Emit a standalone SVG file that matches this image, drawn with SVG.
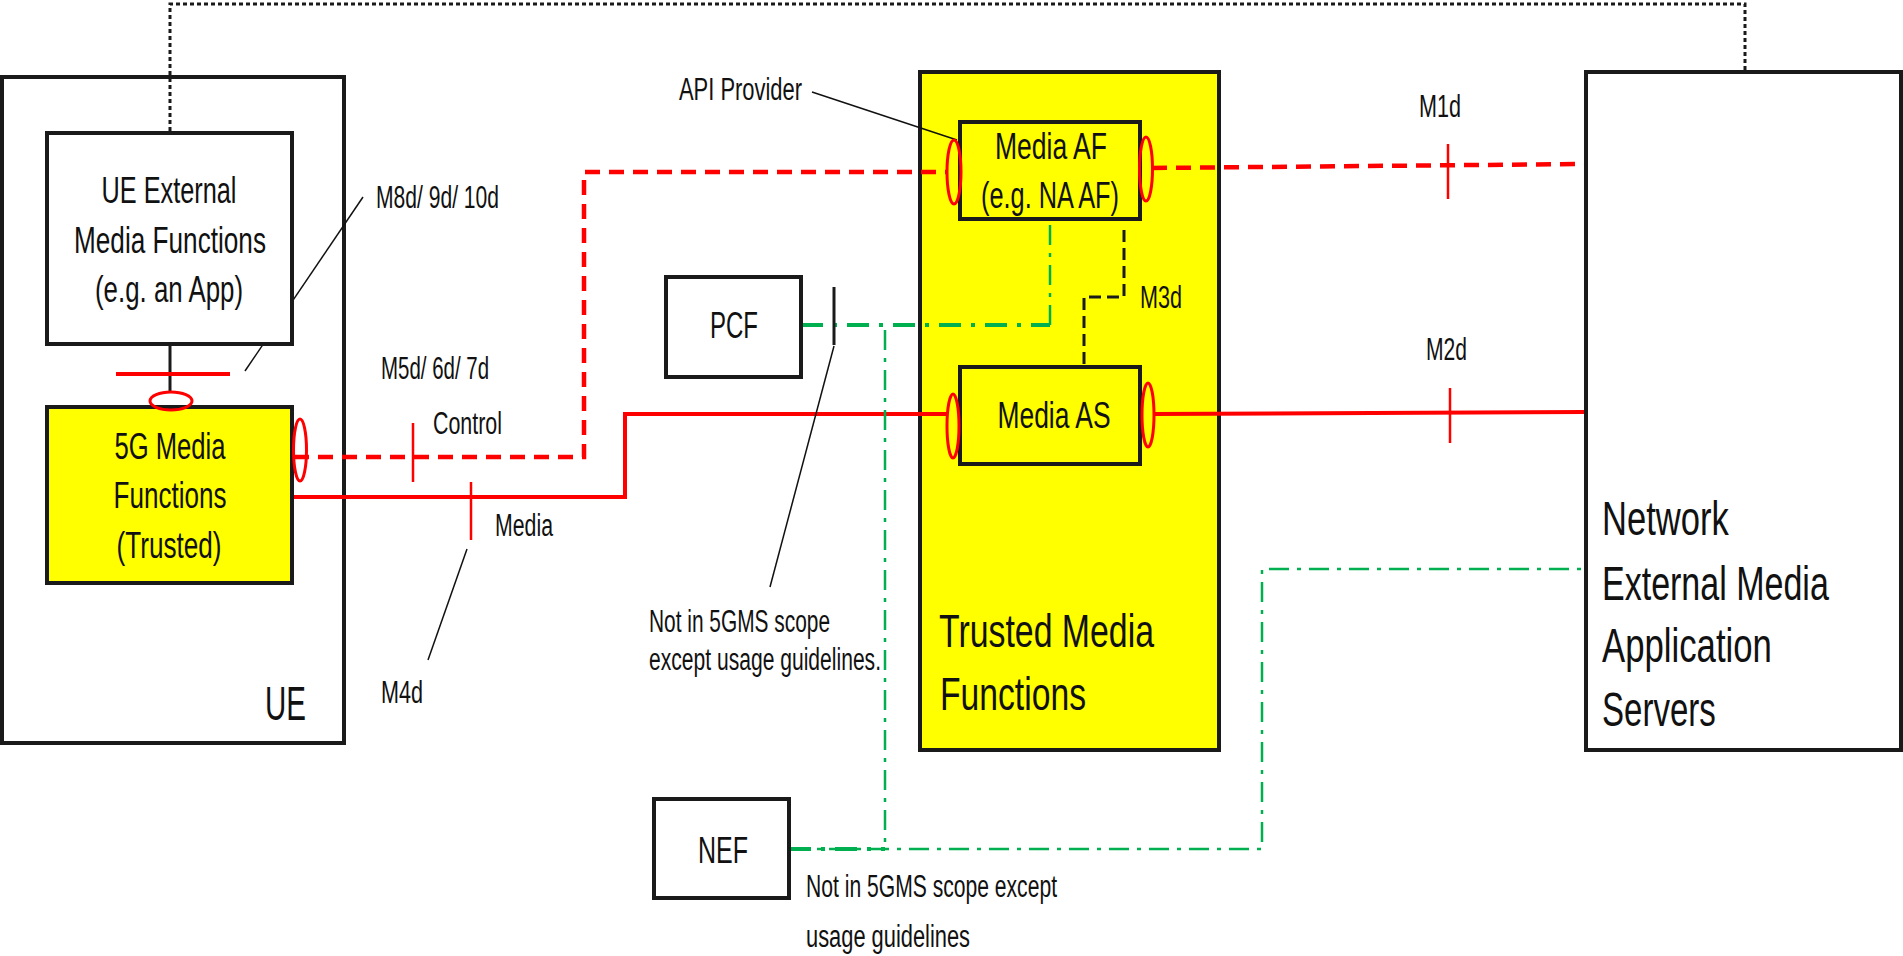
<svg xmlns="http://www.w3.org/2000/svg" width="1903" height="956" viewBox="0 0 1903 956">
<style>
text{font-family:"Liberation Sans",Arial,sans-serif;fill:#111}
.box{fill:#fff;stroke:#1a1a1a;stroke-width:4}
.ybox{fill:#ff0;stroke:#1a1a1a;stroke-width:4}
.lbl{font-size:31px}
.bt{font-size:37px;text-anchor:middle}
.big{font-size:49px}
.red{fill:none;stroke:#f00;stroke-width:4}
.redd{fill:none;stroke:#f00;stroke-width:4.5;stroke-dasharray:15 9}
.tick{fill:none;stroke:#f00;stroke-width:2.5}
.ell{fill:none;stroke:#f00;stroke-width:3}
.grn{fill:none;stroke:#00b050;stroke-width:4;stroke-dasharray:22 10 4 10}
.grnt{fill:none;stroke:#00b050;stroke-width:2.5;stroke-dasharray:20 8 4 8}
.blkd{fill:none;stroke:#1a1a1a;stroke-width:3;stroke-dasharray:12 6}
.dot{fill:none;stroke:#1a1a1a;stroke-width:3;stroke-dasharray:4 3}
.blk{fill:none;stroke:#1a1a1a;stroke-width:3}
.lead{fill:none;stroke:#111;stroke-width:1.5}
</style>
<g id="UE">
<rect class="box" x="2" y="77" width="342" height="666"/>
<text class="big" x="265" y="720" font-size="51" textLength="41" lengthAdjust="spacingAndGlyphs">UE</text>
</g>
<g id="TrustedMediaFunctions">
<rect class="ybox" x="920" y="72" width="299" height="678"/>
<text x="939" y="647" font-size="47" textLength="215" lengthAdjust="spacingAndGlyphs">Trusted Media</text>
<text x="940" y="710" font-size="47" textLength="146" lengthAdjust="spacingAndGlyphs">Functions</text>
</g>
<g id="NetworkExternalMediaApplicationServers">
<rect class="box" x="1586" y="72" width="315" height="678"/>
<g transform="translate(1602,0) scale(0.72,1)">
<text class="big" x="0" y="535" textLength="176" lengthAdjust="spacingAndGlyphs">Network</text>
<text class="big" x="0" y="600" textLength="315" lengthAdjust="spacingAndGlyphs">External Media</text>
<text class="big" x="0" y="662" textLength="236" lengthAdjust="spacingAndGlyphs">Application</text>
<text class="big" x="0" y="726" textLength="158" lengthAdjust="spacingAndGlyphs">Servers</text>
</g>
</g>
<g id="connectors">
<path class="dot" d="M170,131 V4 H1745 V70"/>
<path class="blk" d="M170,344 V392"/>
<path class="red" stroke-width="4.5" d="M116,374 H230"/>
<path class="redd" d="M294,457 H584 V172 H948"/>
<path class="tick" d="M413,423 V482"/>
<path class="red" d="M292,497 H625 V414 H947"/>
<path class="tick" d="M471,482 V540"/>
<path class="redd" d="M1152,168 L1584,164"/>
<path class="tick" d="M1448,144 V199"/>
<path class="red" d="M1154,414 L1584,412"/>
<path class="tick" d="M1450,388 V443"/>
<path class="blkd" d="M1124,230 V297 H1084 V367"/>
<path class="grn" d="M801,325 H1050"/>
<path class="grnt" d="M1050,325 V220"/>
<path class="grnt" d="M885,330 V849"/>
<path class="grnt" d="M789,849 H1262 V569 H1584"/>
<path class="grn" stroke-dasharray="14 8" d="M789,849 H885"/>
<path class="blk" stroke-width="2.5" d="M834,287 V345"/>
<path class="lead" d="M245,371 L363,197"/>
<path class="lead" d="M467,549 L428,660"/>
<path class="lead" d="M812,92 L957,140"/>
<path class="lead" d="M834,346 L770,587"/>
<text class="lbl" x="376" y="208" textLength="123" lengthAdjust="spacingAndGlyphs">M8d/ 9d/ 10d</text>
<text class="lbl" x="381" y="379" textLength="108" lengthAdjust="spacingAndGlyphs">M5d/ 6d/ 7d</text>
<text class="lbl" x="433" y="434" textLength="69" lengthAdjust="spacingAndGlyphs">Control</text>
<text class="lbl" x="495" y="536" textLength="58" lengthAdjust="spacingAndGlyphs">Media</text>
<text class="lbl" x="381" y="703" textLength="42" lengthAdjust="spacingAndGlyphs">M4d</text>
<text class="lbl" x="679" y="100" textLength="123" lengthAdjust="spacingAndGlyphs">API Provider</text>
<text class="lbl" x="1419" y="117" textLength="42" lengthAdjust="spacingAndGlyphs">M1d</text>
<text class="lbl" x="1426" y="360" textLength="41" lengthAdjust="spacingAndGlyphs">M2d</text>
<text class="lbl" x="1140" y="308" textLength="42" lengthAdjust="spacingAndGlyphs">M3d</text>
<text class="lbl" x="649" y="632" textLength="181" lengthAdjust="spacingAndGlyphs">Not in 5GMS scope</text>
<text class="lbl" x="649" y="670" textLength="232" lengthAdjust="spacingAndGlyphs">except usage guidelines.</text>
<text class="lbl" x="806" y="897" textLength="251" lengthAdjust="spacingAndGlyphs">Not in 5GMS scope except</text>
<text class="lbl" x="806" y="947" textLength="164" lengthAdjust="spacingAndGlyphs">usage guidelines</text>
</g>
<g id="UEExternalMediaFunctions">
<rect class="box" x="47" y="133" width="245" height="211"/>
<text class="bt" x="169" y="203" textLength="135" lengthAdjust="spacingAndGlyphs">UE External</text>
<text class="bt" x="170" y="253" textLength="192" lengthAdjust="spacingAndGlyphs">Media Functions</text>
<text class="bt" x="169" y="302" textLength="148" lengthAdjust="spacingAndGlyphs">(e.g. an App)</text>
</g>
<g id="FiveGMediaFunctions">
<rect class="ybox" x="47" y="407" width="245" height="176"/>
<text class="bt" x="170" y="459" textLength="111" lengthAdjust="spacingAndGlyphs">5G Media</text>
<text class="bt" x="170" y="508" textLength="113" lengthAdjust="spacingAndGlyphs">Functions</text>
<text class="bt" x="169" y="558" textLength="105" lengthAdjust="spacingAndGlyphs">(Trusted)</text>
</g>
<g id="MediaAF">
<rect class="ybox" x="960" y="122" width="180" height="97"/>
<text class="bt" x="1051" y="159" textLength="112" lengthAdjust="spacingAndGlyphs">Media AF</text>
<text class="bt" x="1050" y="208" textLength="138" lengthAdjust="spacingAndGlyphs">(e.g. NA AF)</text>
</g>
<g id="MediaAS">
<rect class="ybox" x="960" y="367" width="180" height="97"/>
<text class="bt" x="1054" y="428" textLength="113" lengthAdjust="spacingAndGlyphs">Media AS</text>
</g>
<g id="PCF">
<rect class="box" x="666" y="277" width="135" height="100"/>
<text class="bt" x="734" y="338" textLength="48" lengthAdjust="spacingAndGlyphs">PCF</text>
</g>
<g id="NEF">
<rect class="box" x="654" y="799" width="135" height="99"/>
<text class="bt" x="723" y="863" textLength="50" lengthAdjust="spacingAndGlyphs">NEF</text>
</g>
<g id="interfaces">
<ellipse class="ell" cx="171" cy="401" rx="21" ry="9"/>
<ellipse class="ell" cx="300" cy="450" rx="6.5" ry="31"/>
<ellipse class="ell" cx="954" cy="172" rx="7" ry="32"/>
<ellipse class="ell" cx="1146" cy="169" rx="6.5" ry="32"/>
<ellipse class="ell" cx="953" cy="426" rx="6" ry="32"/>
<ellipse class="ell" cx="1148" cy="415" rx="6" ry="32"/>
</g>
</svg>
